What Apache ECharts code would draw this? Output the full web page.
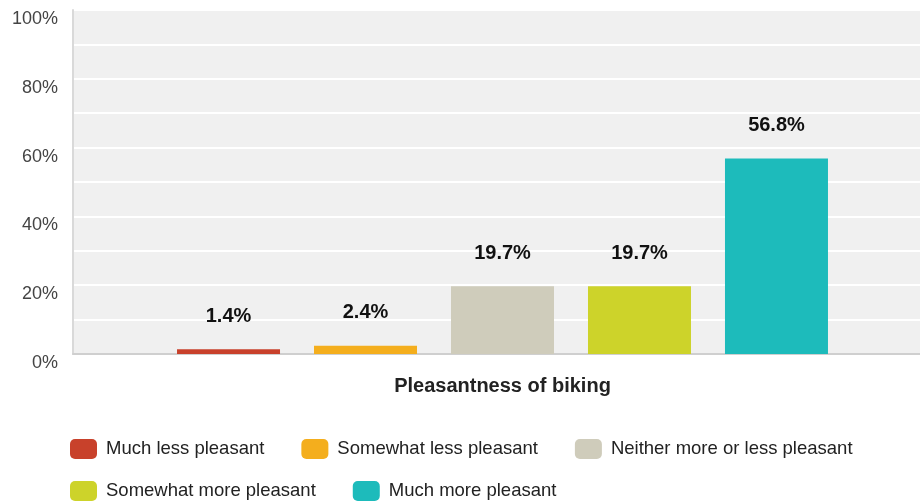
<!DOCTYPE html>
<html>
<head>
<meta charset="utf-8">
<script src="https://cdn.jsdelivr.net/npm/echarts@6/dist/echarts.min.js"></script>
<style>
html,body{margin:0;padding:0;background:#fff;}
#chart{width:920px;height:504px;}
</style>
</head>
<body>
<div id="chart"></div>
<script>
var categories = ['Pleasantness of biking'];
var seriesNames = ['Much less pleasant', 'Somewhat less pleasant', 'Neither more or less pleasant', 'Somewhat more pleasant', 'Much more pleasant'];
var seriesValues = [1.4, 2.4, 19.7, 19.7, 56.8];
var seriesColors = ['#C8412B', '#F4AE1D', '#CFCCBB', '#CDD32A', '#1DBBBB'];
var yTicks = [0, 20, 40, 60, 80, 100];

var FONT = 'Liberation Sans, Arial, sans-serif';

var series = seriesNames.map(function (name, i) {
  return {
    name: name,
    type: 'bar',
    data: [seriesValues[i]],
    barWidth: 103,
    barGap: '33%',
    itemStyle: { color: seriesColors[i] },
    label: {
      show: true,
      position: 'top',
      distance: 23,
      formatter: function (p) { return p.value.toFixed(1) + '%'; },
      fontFamily: FONT,
      fontWeight: 'bold',
      fontSize: 20,
      color: '#111'
    }
  };
});

var legendCommon = {
  left: 70,
  orient: 'horizontal',
  icon: 'roundRect',
  itemWidth: 27,
  itemHeight: 20,
  itemGap: 37,
  padding: 0,
  textStyle: { fontFamily: FONT, fontSize: 18.5, color: '#222', padding: [0, 0, 0, 4] }
};

var option = {
  animation: false,
  backgroundColor: '#fff',
  legend: [
    Object.assign({}, legendCommon, { top: 439, data: seriesNames.slice(0, 3) }),
    Object.assign({}, legendCommon, { top: 481, data: seriesNames.slice(3) })
  ],
  grid: {
    left: 73, right: -12, top: 10, bottom: 150,
    outerBoundsMode: 'none',
    containLabel: false,
    show: true, backgroundColor: '#F0F0F0', borderWidth: 0
  },
  xAxis: {
    type: 'category',
    data: categories,
    axisTick: { show: false },
    axisLine: { lineStyle: { color: '#cfcfcf', width: 2 } },
    axisLabel: {
      margin: 22,
      fontFamily: FONT, fontWeight: 'bold', fontSize: 20, color: '#222'
    }
  },
  yAxis: {
    type: 'value',
    min: 0, max: 100, interval: 10,
    axisLine: { show: true, lineStyle: { color: '#d9d9d9', width: 2 } },
    axisTick: { show: false },
    splitLine: { lineStyle: { color: '#ffffff', width: 2 } },
    axisLabel: {
      margin: 15,
      verticalAlign: 'top',
      fontFamily: FONT, fontSize: 18, color: '#444',
      formatter: function (v) { return yTicks.indexOf(v) >= 0 ? v + '%' : ''; }
    }
  },
  series: series
};

var chart = echarts.init(document.getElementById('chart'), null, { renderer: 'canvas' });
chart.setOption(option);
</script>
</body>
</html>
